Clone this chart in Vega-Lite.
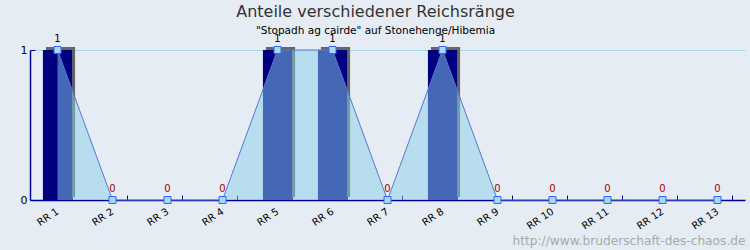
{
  "$schema": "https://vega.github.io/schema/vega-lite/v6.json",
  "width": 715,
  "height": 150,
  "autosize": {"type": "none"},
  "padding": {"left": 30, "top": 50, "right": 5, "bottom": 50},
  "background": "#e6ecf3",
  "config": {"view": {"stroke": null}, "font": "DejaVu Sans"},
  "title": {
    "text": "Anteile verschiedener Reichsränge",
    "subtitle": "\"Stopadh ag cairde\" auf Stonehenge/Hibemia",
    "anchor": "middle",
    "dx": -12,
    "font": "DejaVu Sans",
    "fontSize": 16,
    "fontWeight": "normal",
    "color": "#333333",
    "subtitleFont": "DejaVu Sans",
    "subtitleFontSize": 10.5,
    "subtitleColor": "#000000",
    "subtitlePadding": 6,
    "offset": -2
  },
  "data": {
    "values": [
      {"rang": "RR 1", "anteil": 1},
      {"rang": "RR 2", "anteil": 0},
      {"rang": "RR 3", "anteil": 0},
      {"rang": "RR 4", "anteil": 0},
      {"rang": "RR 5", "anteil": 1},
      {"rang": "RR 6", "anteil": 1},
      {"rang": "RR 7", "anteil": 0},
      {"rang": "RR 8", "anteil": 1},
      {"rang": "RR 9", "anteil": 0},
      {"rang": "RR 10", "anteil": 0},
      {"rang": "RR 11", "anteil": 0},
      {"rang": "RR 12", "anteil": 0},
      {"rang": "RR 13", "anteil": 0}
    ]
  },
  "encoding": {
    "x": {
      "field": "rang",
      "type": "nominal",
      "sort": ["RR 1", "RR 2", "RR 3", "RR 4", "RR 5", "RR 6", "RR 7", "RR 8", "RR 9", "RR 10", "RR 11", "RR 12", "RR 13"],
      "scale": {"paddingInner": 0.47, "paddingOuter": 0.235},
      "axis": {
        "title": "http://www.bruderschaft-des-chaos.de",
        "titleAnchor": "end",
        "titleAlign": "right",
        "titleBaseline": "alphabetic",
        "titleY": 44,
        "titleColor": "#aaaaaa",
        "titleFont": "DejaVu Sans",
        "titleFontSize": 12.2,
        "titleFontWeight": "normal",
        "labelAngle": -34,
        "labelAlign": "right",
        "labelBaseline": "top",
        "labelFontSize": 10,
        "labelColor": "#000000",
        "labelPadding": 11,
        "labelOffset": -3,
        "tickBand": "extent",
        "tickSize": -5,
        "tickColor": "#000090",
        "domainColor": "#000090",
        "domainWidth": 1.5,
        "grid": false
      }
    },
    "y": {
      "field": "anteil",
      "type": "quantitative",
      "scale": {"domain": [0, 1], "nice": false},
      "axis": {
        "title": null,
        "values": [0, 1],
        "format": "d",
        "labelFontSize": 11,
        "labelColor": "#000000",
        "labelPadding": 8,
        "tickSize": -5,
        "tickColor": "#000090",
        "domainColor": "#000090",
        "domainWidth": 1.5,
        "grid": true,
        "gridColor": "#a6d8e8",
        "gridWidth": 1
      }
    }
  },
  "layer": [
    {
      "mark": {"type": "bar", "color": "#666666", "xOffset": 3, "x2Offset": 3, "yOffset": -3, "y2Offset": -3},
      "transform": [{"filter": "datum.anteil > 0"}]
    },
    {
      "mark": {"type": "bar", "color": "#000080"},
      "transform": [{"filter": "datum.anteil > 0"}]
    },
    {
      "mark": {"type": "area", "color": "#87ceeb", "opacity": 0.5, "line": {"color": "#5a78d0", "strokeWidth": 1, "opacity": 1}}
    },
    {
      "mark": {"type": "point", "shape": "square", "size": 49, "filled": true, "fill": "#a8d8f0", "stroke": "#3366ff", "strokeWidth": 1, "opacity": 1}
    },
    {
      "mark": {"type": "text", "baseline": "alphabetic", "dy": -8, "fontSize": 10, "font": "DejaVu Sans"},
      "encoding": {
        "text": {"field": "anteil", "type": "quantitative"},
        "color": {
          "condition": {"test": "datum.anteil == 0", "value": "#aa0000"},
          "value": "#000000"
        }
      }
    }
  ]
}
